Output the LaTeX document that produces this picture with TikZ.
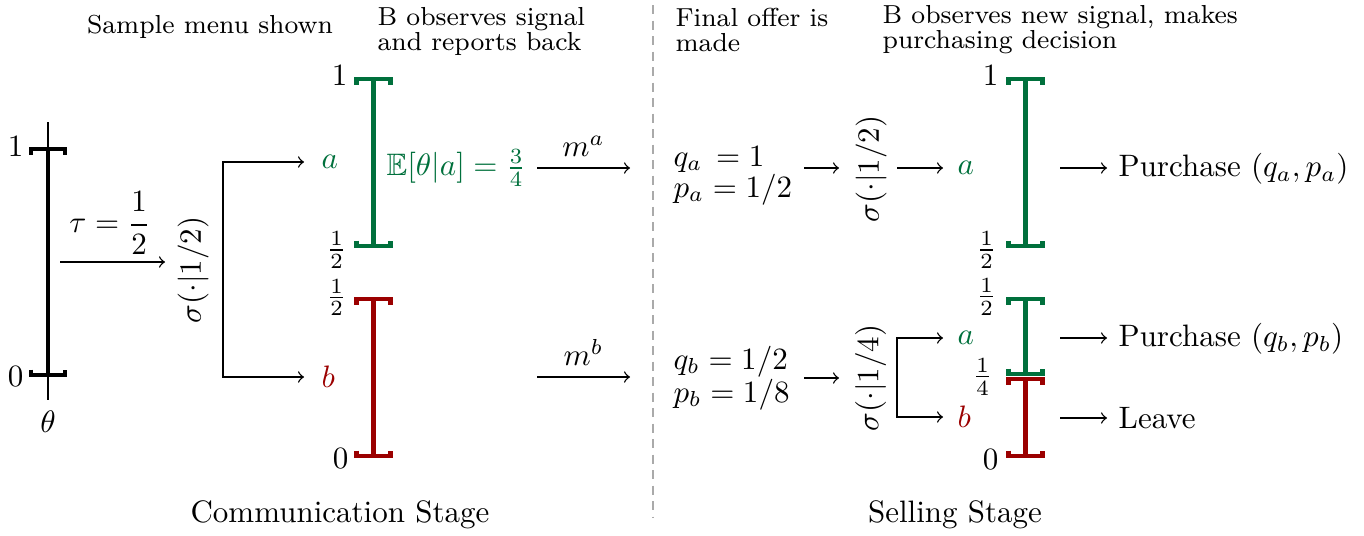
\documentclass[tikz,border=0pt]{standalone}
\usepackage{amsmath,amssymb}
\usetikzlibrary{calc}
\definecolor{sgreen}{RGB}{0,112,60}
\definecolor{sred}{RGB}{155,0,0}
\definecolor{divgray}{RGB}{170,170,170}
\tikzset{
  bar/.style={line width=1.6pt, line join=miter},
  axisline/.style={line width=0.4pt},
  conn/.style={->, line width=0.45pt},
  lbl/.style={inner sep=0pt},
  header/.style={inner sep=0pt, font=\fontsize{8.4}{7.9}\selectfont, align=left},
  divider/.style={divgray, line width=0.5pt, dash pattern=on 3pt off 2pt},
}
\newcommand\drawbar[4]{%
  \draw[bar,#1] (#2,#3) -- (#2,#4);
  \draw[bar,#1] (#2-17,#3+5.5) -- (#2-17,#3) -- (#2+17,#3) -- (#2+17,#3+5.5);
  \draw[bar,#1] (#2-17,#4-5.5) -- (#2-17,#4) -- (#2+17,#4) -- (#2+17,#4-5.5);
}
\begin{document}
\begin{tikzpicture}[x=0.32258pt,y=-0.32258pt]
\useasboundingbox (0,0) rectangle (1364,535);

% headers
\node[header,anchor=base] (h1) at (210,33) {Sample menu shown};
\node[header,anchor=north west] (h2) at (377,7) {B observes signal\\and reports back};
\node[header,anchor=north west] (h3) at (675,8) {Final offer is\\made};
\node[header,anchor=north west] (h4) at (882,5) {B observes new signal, makes\\purchasing decision};

% divider
\draw[divider] (653,5) -- (653,518);

% theta bar
\draw[axisline] (48,122) -- (48,400);
\drawbar{black}{48}{149}{375}
\node[lbl,anchor=east] (t1) at (24,147) {$1$};
\node[lbl,anchor=east] (t0) at (24,377) {$0$};
\node[lbl] (theta) at (48,422) {$\theta$};

\node[lbl] (tau) at (110,223) {$\tau = \dfrac{1}{2}$};
\coordinate (tauS) at (60,262);
\coordinate (tauE) at (165,262);
\draw[conn] (tauS) -- (tauE);

\node[lbl,rotate=90] (sig1) at (193,270) {$\sigma(\cdot|1/2)$};
\node[lbl,anchor=west,text=sgreen] (ca) at (321,162) {$a$};
\node[lbl,anchor=west,text=sred] (cb) at (321,377) {$b$};
\draw[conn,<->] ($(ca.west)+(-17,0)$) -- (223,162) -- (223,377) -- ($(cb.west)+(-17,0)$);

% middle bars
\drawbar{sred}{373.5}{299}{456}
\drawbar{sgreen}{373.5}{79}{246}
\node[lbl,anchor=east] (m1) at (348,76) {$1$};
\node[lbl,anchor=east] (mh1) at (347,250) {$\frac{1}{2}$};
\node[lbl,anchor=east] (mh2) at (347,297.5) {$\frac{1}{2}$};
\node[lbl,anchor=east] (m0) at (349,458) {$0$};

\node[lbl,anchor=west,text=sgreen] (Ea) at (386,168) {$\mathbb{E}[\theta|a] = \frac{3}{4}$};

\coordinate (maS) at (537,168);
\coordinate (maE) at (630,168);
\draw[conn] (maS) -- node[above] (ma) {$m^a$} (maE);
\coordinate (mbS) at (537,377);
\coordinate (mbE) at (630,377);
\draw[conn] (mbS) -- node[above] (mb) {$m^b$} (mbE);

% selling stage offers
\node[lbl,anchor=base west] (qa) at (673,166) {$q_a\,= 1$};
\node[lbl,anchor=base west] (pa) at (673,197) {$p_a = 1/2$};
\node[lbl,anchor=base west] (qb) at (673,369) {$q_b = 1/2$};
\node[lbl,anchor=base west] (pb) at (673,402) {$p_b = 1/8$};

\coordinate (oaS) at (804,168);
\coordinate (oaE) at (839,168);
\draw[conn] (oaS) -- (oaE);
\coordinate (obS) at (804,378);
\coordinate (obE) at (839,378);
\draw[conn] (obS) -- (obE);

\node[lbl,rotate=90] (sig2) at (871,169) {$\sigma(\cdot|1/2)$};
\node[lbl,rotate=90] (sig3) at (870.5,378) {$\sigma(\cdot|1/4)$};

\node[lbl,anchor=west,text=sgreen] (sa1) at (957,168) {$a$};
\node[lbl,anchor=west,text=sgreen] (sa2) at (957,338) {$a$};
\node[lbl,anchor=west,text=sred] (sb2) at (957,417) {$b$};

\coordinate (s2S) at (897,168);
\draw[conn] (s2S) -- ($(sa1.west)+(-14,0)$);
\draw[conn,<->] ($(sa2.west)+(-14,0)$) -- (897,338) -- (897,417) -- ($(sb2.west)+(-14,0)$);

% right bars
\drawbar{sred}{1025}{379}{456}
\drawbar{sgreen}{1025}{299}{374}
\drawbar{sgreen}{1025}{79}{246}
\node[lbl,anchor=east] (r1) at (999,76) {$1$};
\node[lbl,anchor=east] (rh1) at (997,250) {$\frac{1}{2}$};
\node[lbl,anchor=east] (rh2) at (997,296.7) {$\frac{1}{2}$};
\node[lbl,anchor=east] (rq) at (993,376.7) {$\frac{1}{4}$};
\node[lbl,anchor=east] (r0) at (999,459) {$0$};

% outcomes
\node[lbl,anchor=west] (o1) at (1118,169) {Purchase $(q_a,p_a)$};
\node[lbl,anchor=west] (o2) at (1118,339) {Purchase $(q_b,p_b)$};
\node[lbl,anchor=west] (o3) at (1118,418) {Leave};
\draw[conn] ($(o1.west)+(-58,-1)$) -- ($(o1.west)+(-11,-1)$);
\draw[conn] ($(o2.west)+(-58,-1)$) -- ($(o2.west)+(-11,-1)$);
\draw[conn] ($(o3.west)+(-58,0)$) -- ($(o3.west)+(-11,0)$);

% stage labels
\node[lbl] (cs) at (340,515) {Communication Stage};
\node[lbl] (ss) at (955,515) {Selling Stage};
\end{tikzpicture}
\end{document}
